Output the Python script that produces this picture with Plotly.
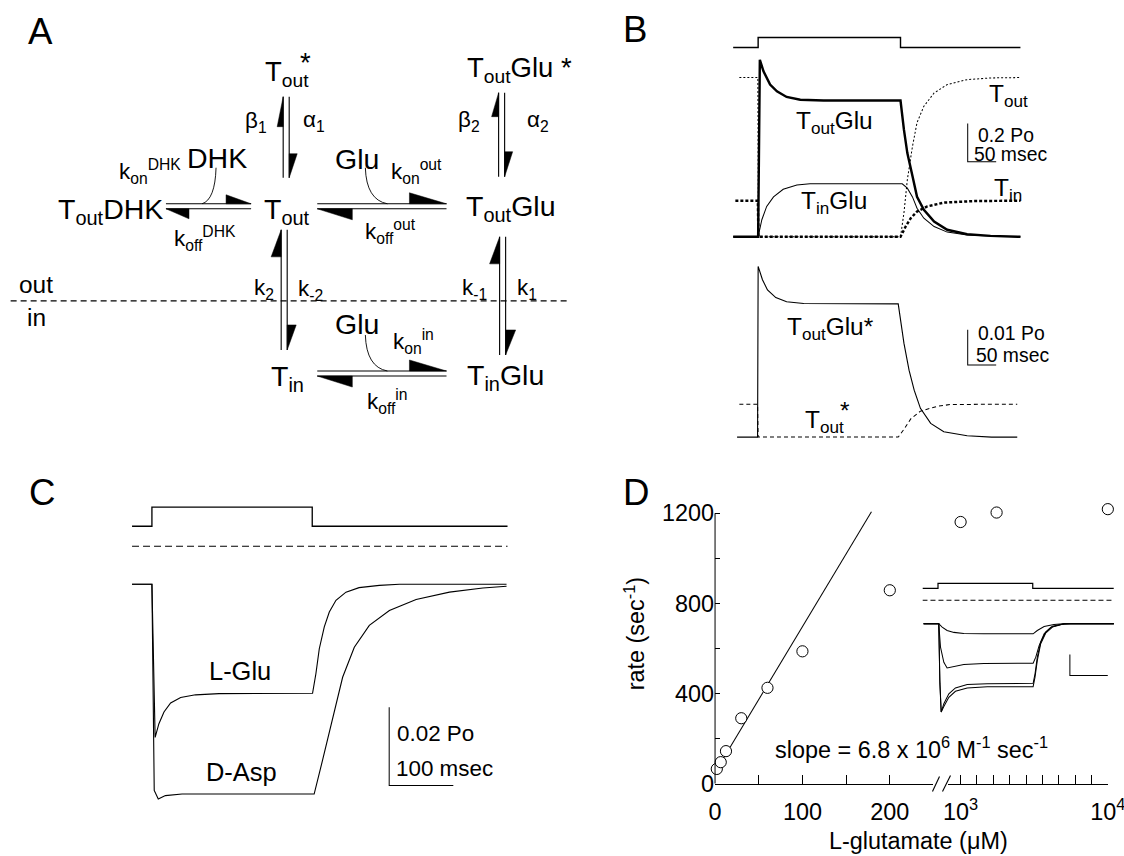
import plotly.graph_objects as go

# Target picture is 1124 x 856; the capture pipeline shrinks the page slightly,
# so the page is laid out in "reference pixels" mapped through S / OX / OY
# plus a small measured residual correction (CX, CY).
REF_W, REF_H = 1124, 856
S, OX, OY = 0.982, 4.8, 4.2
CX = (3.6, 0.994)
CY = (0.3, 0.997)
WF = round((REF_W - OX) / S)
HF = round((REF_H - OY) / S)
FONT = "Liberation Sans, Arial, Helvetica, sans-serif"

# ---------------- data ----------------
STIM_V = [0, 0, 1, 1, 0, 0]
STIM_T_B = [-44, 0, 0, 250, 250, 461]
STIM_T_C = [-31, 0, 0, 250, 250, 555]
STIM_T_D = [-41, 0, 0, 250, 250, 464]

TOUTGLU_T = [-44, 0, 3, 9.4, 21, 33, 50, 74, 115, 250, 256, 262, 271, 279, 291, 309, 332, 367, 408, 461]
TOUTGLU_V = [0, 0, 0.93, 0.87, 0.80, 0.765, 0.735, 0.72, 0.716, 0.716, 0.563, 0.44, 0.32, 0.21, 0.142, 0.08, 0.037, 0.014, 0.005, 0.0]
TINGLU_T = [-44, 0, 6.5, 15, 27, 44, 68, 91, 253, 262, 271, 279, 291, 309, 332, 367, 408, 461]
TINGLU_V = [0, 0, 0.09, 0.16, 0.21, 0.25, 0.272, 0.279, 0.279, 0.256, 0.21, 0.15, 0.098, 0.054, 0.025, 0.01, 0.004, 0.0]
TOUT_T = [-33, -0.5, 0.5, 250, 256, 262, 271, 279, 291, 309, 332, 367, 408, 461]
TOUT_V = [0.837, 0.837, 0.0, 0.0, 0.125, 0.30, 0.475, 0.60, 0.686, 0.756, 0.80, 0.826, 0.835, 0.837]
TIN_T = [-40, -0.5, 0.5, 250, 259, 268, 279, 297, 326, 379, 461]
TIN_V = [0.19, 0.19, 0.0, 0.0, 0.054, 0.098, 0.133, 0.16, 0.18, 0.188, 0.19]

TOUTGLUS_T = [-37, -1, 0, 7.6, 16.4, 31, 50, 80, 246, 250, 256, 265, 274, 285, 303, 326, 367, 410, 455]
TOUTGLUS_V = [0, 0, 0.0487, 0.0449, 0.042, 0.0398, 0.0386, 0.0381, 0.038, 0.0334, 0.0268, 0.0191, 0.0134, 0.0082, 0.0039, 0.0015, 0.0004, 0.0, 0.0]
TOUTS_T = [-33, -1, 0, 246, 256, 268, 285, 315, 338, 455]
TOUTS_V = [0.0094, 0.0094, 0.0, 0.0, 0.0022, 0.0052, 0.0074, 0.0088, 0.0093, 0.0094]

LGLU_T = [-31, 0, 5, 10.9, 18.8, 29.2, 44.8, 68, 104.7, 250.5, 255.7, 261, 268.8, 276.6, 287, 302.6, 323, 354.7, 386, 553]
LGLU_V = [0, 0, -0.0392, -0.0357, -0.0327, -0.0304, -0.029, -0.0283, -0.028, -0.0279, -0.0229, -0.0165, -0.0109, -0.0071, -0.0041, -0.002, -0.00085, -0.00026, 0, 0]
DASP_T = [-31, 0, 3.6, 9.9, 21, 47, 250.5, 253, 266, 281.8, 297.4, 315.6, 339, 370.3, 412, 464, 516, 553]
DASP_V = [0, 0, -0.0528, -0.055, -0.0541, -0.0537, -0.0537, -0.0537, -0.0451, -0.034, -0.0238, -0.0161, -0.0105, -0.0067, -0.0039, -0.002, -0.00094, -0.0005]
CTRL_T = [-31, 555]
CTRL_V = [0, 0]

GLU_LOW = [2, 6.5, 12.5, 30, 60, 100, 200]
RATE_LOW = [65, 95, 144, 290, 425, 587, 858]
GLU_HIGH = [1000, 3200, 10000]
RATE_HIGH = [1161, 1203, 1218]
FIT_X = [10, 179]
FIT_Y = [115, 1206]

INS_TA = [-38, 2, 11, 24, 42, 68, 121, 251, 262, 280, 306, 330, 465]
INS_V1 = [0, 0, -0.0016, -0.0032, -0.0041, -0.0046, -0.0048, -0.0048, -0.0032, -0.0013, -0.0003, 0, 0]
INS_TB = [-38, 2, 6.6, 15.4, 24, 42, 68, 121, 251, 258, 267, 280, 298, 324, 350, 465]
INS_V2 = [0, 0, -0.0111, -0.0183, -0.021, -0.0203, -0.0194, -0.0189, -0.0188, -0.0159, -0.0103, -0.0048, -0.0016, -0.0003, 0, 0]
INS_TC = [-38, 2, 4.9, 8.4, 15.4, 28.6, 46, 77, 130, 251, 256, 262, 271, 284, 302, 333, 465]
INS_V3 = [0, 0, -0.027, -0.042, -0.038, -0.0333, -0.0305, -0.0289, -0.0285, -0.0283, -0.0238, -0.0159, -0.0088, -0.004, -0.0012, 0, 0]
INS_V4 = [0, 0, -0.0286, -0.042, -0.0394, -0.035, -0.0321, -0.0305, -0.030, -0.0299, -0.0254, -0.0175, -0.0095, -0.0045, -0.0016, 0, 0]

SB_B1 = (368, 50, 0.395, 0.2)
SB_B2 = (368, 50, 0.0206, 0.01)
SB_C = (370, 100, -0.0515, 0.02)
SB_D = (348, 100, -0.0246, 0.01)

# ---------------- helpers (reference pixels -> paper) ----------------
def px(x):
    x = (x - CX[0]) / CX[1]
    return ((x - OX) / S) / WF

def py(y):
    y = (y - CY[0]) / CY[1]
    return 1 - ((y - OY) / S) / HF

def xd(a, b):
    return [px(a), px(b)]

def yd(top, bottom):
    return [py(bottom), py(top)]

def fs(s):
    return s / S

fig = go.Figure()

def add_line(x, y, xa, ya, width=1.0, dash=None):
    fig.add_trace(go.Scatter(x=x, y=y, xaxis=xa, yaxis=ya, mode="lines",
                             line=dict(color="black", width=width / S, dash=dash),
                             hoverinfo="skip", showlegend=False, cliponaxis=False))

def add_scalebar(sb, xa, ya):
    t0, dt, v0, dv = sb
    add_line([t0, t0, t0 + dt], [v0 + dv, v0, v0], xa, ya, width=1.0)

def ann(text, x, y, size, xanchor="center", yanchor="middle", angle=0):
    fig.add_annotation(text=text, x=px(x), y=py(y), xref="paper", yref="paper",
                       showarrow=False, xanchor=xanchor, yanchor=yanchor, textangle=angle,
                       borderpad=0, font=dict(family=FONT, size=fs(size), color="black"))

shapes = []

def seg(x0, y0, x1, y1, w=1.1, dash=None, color="black"):
    shapes.append(dict(type="line", xref="paper", yref="paper", x0=px(x0), y0=py(y0),
                       x1=px(x1), y1=py(y1), line=dict(color=color, width=w / S, dash=dash)))

def poly(pts):
    d = "M " + " L ".join(f"{px(a):.5f},{py(b):.5f}" for a, b in pts) + " Z"
    shapes.append(dict(type="path", xref="paper", yref="paper", path=d,
                       fillcolor="black", line=dict(color="black", width=0.5)))

def curve(p0, c, p1):
    d = (f"M {px(p0[0]):.5f},{py(p0[1]):.5f} Q {px(c[0]):.5f},{py(c[1]):.5f} "
         f"{px(p1[0]):.5f},{py(p1[1]):.5f}")
    shapes.append(dict(type="path", xref="paper", yref="paper", path=d,
                       line=dict(color="black", width=0.9)))

# ---------------- Panel A: kinetic scheme ----------------
A_TEXT = [
    ("A", 42, 32, 36),
    ("T<sub>out</sub>", 288, 74, 27),
    ("*", 306, 63, 27),
    ("T<sub>out</sub>Glu *", 520, 70, 27),
    ("β<sub>1</sub>", 257, 122, 22),
    ("α<sub>1</sub>", 315, 121, 22),
    ("β<sub>2</sub>", 469, 121, 22),
    ("α<sub>2</sub>", 538, 121, 22),
    ("k<sub>on</sub><sup>DHK</sup>", 151, 172, 22),
    ("DHK", 218, 158, 28),
    ("T<sub>out</sub>DHK", 112, 211, 28),
    ("k<sub>off</sub><sup>DHK</sup>", 206, 239, 22),
    ("T<sub>out</sub>", 288, 211, 28),
    ("Glu", 358, 159, 28),
    ("k<sub>on</sub><sup>out</sup>", 417, 172, 22),
    ("k<sub>off</sub><sup>out</sup>", 391, 232, 22),
    ("T<sub>out</sub>Glu", 511, 208, 28),
    ("out", 37, 285, 24),
    ("in", 38, 318, 24),
    ("k<sub>2</sub>", 265, 289, 22),
    ("k<sub>-2</sub>", 311, 290, 22),
    ("k<sub>-1</sub>", 475, 289, 22),
    ("k<sub>1</sub>", 527, 289, 22),
    ("Glu", 358, 324, 28),
    ("k<sub>on</sub><sup>in</sup>", 414, 342, 22),
    ("T<sub>in</sub>", 288, 378, 28),
    ("T<sub>in</sub>Glu", 506, 377, 28),
    ("k<sub>off</sub><sup>in</sup>", 388, 401, 22),
]
for t, x, y, s in A_TEXT:
    ann(t, x, y, s)

V_ARROWS = [
    (284, 290, 97, 178, 30, 6, 24, 8),
    (499, 505, 93, 177, 24, 7, 25, 8),
    (282, 288, 230, 350, 27, 10, 25, 9),
    (500, 506, 237, 355, 27, 10, 25, 10),
]
for xl, xr, yt, yb, lu, wu, ld, wd in V_ARROWS:
    seg(xl, yt, xl, yb)
    seg(xr, yt, xr, yb)
    poly([(xl, yt), (xl - wu, yt + lu), (xl, yt + lu)])
    poly([(xr, yb), (xr + wd, yb - ld), (xr, yb - ld)])

H_ARROWS = [
    (167, 252, 204, 209, 25, 9, 23, 10),
    (318, 447, 204, 209, 37, 11, 35, 11),
    (318, 447, 371, 376, 37, 11, 35, 11),
]
for xl, xr, yt, yb, lr, wr, ll, wl in H_ARROWS:
    seg(xl, yt, xr, yt)
    seg(xl, yb, xr, yb)
    poly([(xr, yt), (xr - lr, yt - wr), (xr - lr, yt)])
    poly([(xl, yb), (xl + ll, yb + wl), (xl + ll, yb)])

CURVES = [((217, 168), (216, 200), (203, 204)),
          ((366, 168), (367, 200), (388, 204)),
          ((366, 335), (367, 367), (388, 371))]
for p0, c, p1 in CURVES:
    curve(p0, c, p1)

seg(12, 301, 567, 301, w=1.2, dash="6px,4px")

# ---------------- Panel B ----------------
add_line(STIM_T_B, STIM_V, "x", "y", width=1.4)
add_line(TOUT_T, TOUT_V, "x", "y2", width=1.0, dash="2px,2px")
add_line(TIN_T, TIN_V, "x", "y2", width=2.4, dash="3px,2px")
add_line(TINGLU_T, TINGLU_V, "x", "y2", width=1.0)
add_line(TOUTGLU_T, TOUTGLU_V, "x", "y2", width=2.4)
add_scalebar(SB_B1, "x", "y2")
add_line(TOUTS_T, TOUTS_V, "x", "y3", width=1.0, dash="4px,3px")
add_line(TOUTGLUS_T, TOUTGLUS_V, "x", "y3", width=1.1)
add_scalebar(SB_B2, "x", "y3")

ann("B", 635, 30, 36)
ann("T<sub>out</sub>", 1008, 96, 24)
ann("T<sub>out</sub>Glu", 834, 123, 24)
ann("T<sub>in</sub>Glu", 834, 203, 24)
ann("T<sub>in</sub>", 1007, 190, 24)
ann("0.2 Po", 976, 135, 19, xanchor="left")
ann("50 msec", 972, 154, 19, xanchor="left")
ann("T<sub>out</sub>Glu*", 830, 329, 24)
ann("T<sub>out</sub>", 824, 421, 24)
ann("*", 845, 410, 24)
ann("0.01 Po", 976, 333, 19, xanchor="left")
ann("50 msec", 974, 355, 19, xanchor="left")

# ---------------- Panel C ----------------
add_line(STIM_T_C, STIM_V, "x2", "y4", width=1.3)
add_line(CTRL_T, CTRL_V, "x2", "y5", width=1.2, dash="7px,4px")
add_line(LGLU_T, LGLU_V, "x2", "y6", width=1.1)
add_line(DASP_T, DASP_V, "x2", "y6", width=1.1)
add_scalebar(SB_C, "x2", "y6")
ann("C", 43, 492, 36)
ann("L-Glu", 241, 671, 25)
ann("D-Asp", 242, 771, 25)
ann("0.02 Po", 397, 733, 22, xanchor="left")
ann("100 msec", 396, 768, 22, xanchor="left")

# ---------------- Panel D ----------------
add_line(FIT_X, FIT_Y, "x3", "y7", width=1.0)
for gx, gy, xa in ((GLU_LOW, RATE_LOW, "x3"), (GLU_HIGH, RATE_HIGH, "x4")):
    fig.add_trace(go.Scatter(x=gx, y=gy, xaxis=xa, yaxis="y7", mode="markers",
                             marker=dict(symbol="circle", size=11 / S, color="white",
                                         line=dict(color="black", width=1)),
                             hoverinfo="skip", showlegend=False, cliponaxis=False))
add_line(STIM_T_D, STIM_V, "x5", "y8", width=1.2)
add_line(STIM_T_D, [0] * len(STIM_T_D), "x5", "y9", width=1.0, dash="5px,3px")
add_line(INS_TA, INS_V1, "x5", "y10", width=1.0)
add_line(INS_TB, INS_V2, "x5", "y10", width=1.0)
add_line(INS_TC, INS_V3, "x5", "y10", width=1.0)
add_line(INS_TC, INS_V4, "x5", "y10", width=1.0)
add_scalebar(SB_D, "x5", "y10")

ann("D", 636, 492, 36)
ann("rate (sec<sup>-1</sup>)", 635, 633, 23, angle=-90)
ann("L-glutamate (μM)", 918, 840, 23)
ann("slope = 6.8 x 10<sup>6</sup> M<sup>-1</sup> sec<sup>-1</sup>", 911, 747, 23)
seg(715, 513, 715, 783, w=1.0)
seg(932, 791, 939, 776, w=1.1)
seg(942, 791, 950, 775, w=1.1)

# ---------------- layout ----------------
def hid(domain, rng, anchor):
    return dict(domain=domain, range=rng, visible=False, fixedrange=True, anchor=anchor)

tickfont = dict(family=FONT, size=fs(23), color="black")
vis = dict(linecolor="black", linewidth=1, ticks="inside", tickcolor="black",
           tickwidth=1, showgrid=False, zeroline=False, fixedrange=True, tickfont=tickfont)

Y_TOP = 1240
fig.update_layout(
    width=WF, height=HF, margin=dict(l=0, r=0, t=0, b=0),
    paper_bgcolor="white", plot_bgcolor="rgba(0,0,0,0)", showlegend=False,
    font=dict(family=FONT, color="black"),
    xaxis=hid(xd(733, 1020), [-44, 461], "y"),
    yaxis=hid(yd(33, 53), [-0.5, 1.5], "x"),
    yaxis2=hid(yd(50, 245), [-0.042, 0.984], "x"),
    yaxis3=hid(yd(255, 445), [-0.00229, 0.052], "x"),
    xaxis2=hid(xd(133, 508), [-31.25, 554.7], "y4"),
    yaxis4=hid(yd(500, 532), [-0.316, 1.368], "x2"),
    yaxis5=hid(yd(536, 556), [-1, 1], "x2"),
    yaxis6=hid(yd(575, 805), [-0.05667, 0.00231], "x2"),
    xaxis3=dict(domain=xd(715, 933), range=[0, 250], anchor="y7", ticklen=8 / S, showline=True,
                ticklabelstandoff=7,
                tickvals=[0, 50, 100, 150, 200], ticktext=["0", "", "100", "", "200"], **vis),
    xaxis4=dict(domain=xd(947, 1107), range=[200, 10000], anchor="y7", ticklen=8 / S, showline=True,
                ticklabelstandoff=7,
                tickvals=[1000 * i for i in range(1, 11)],
                ticktext=["10<sup>3</sup>"] + [""] * 8 + ["10<sup>4</sup>"],
                ticklabeloverflow="allow", **vis),
    yaxis7=dict(domain=yd(783 - Y_TOP * 0.225, 783), range=[0, Y_TOP], anchor="x3", ticklen=5 / S,
                showline=False, tickvals=list(range(0, 1201, 200)),
                ticktext=["0", "", "400", "", "800", "", "1200"], **vis),
    xaxis5=hid(xd(922, 1113), [-41, 464], "y10"),
    yaxis8=hid(yd(578, 593), [-1, 2], "x5"),
    yaxis9=hid(yd(595, 605), [-1, 1], "x5"),
    yaxis10=hid(yd(615, 716), [-0.0441, 0.004], "x5"),
    shapes=shapes,
)

POST = ("document.documentElement.style.margin='0';document.body.style.margin='0';"
        "document.documentElement.style.overflow='hidden';document.body.style.overflow='hidden';")

fig.write_html("out.html", config={"displayModeBar": False, "staticPlot": True}, post_script=POST)
